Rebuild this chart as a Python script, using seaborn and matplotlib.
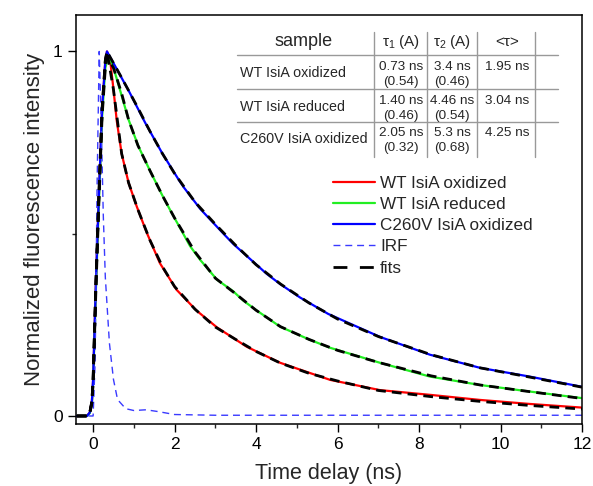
import numpy as np
import pandas as pd
import matplotlib
matplotlib.use("Agg")
import matplotlib.pyplot as plt
from matplotlib.lines import Line2D
from matplotlib.ticker import MultipleLocator
import seaborn as sns

# ---------------- data ----------------
t_red = [-0.4, -0.15, -0.08, -0.03, 0.0, 0.07, 0.14, 0.22, 0.30, 0.34, 0.42, 0.50, 0.58, 0.70,
         0.87, 1.07, 1.32, 1.64, 2.05, 2.54, 3.04, 3.77, 4.59, 5.24, 5.82, 7.04, 8.27, 9.5, 10.72, 12.0]
v_red = [0.0, 0.0, 0.01, 0.04, 0.10, 0.37, 0.60, 0.84, 0.975, 1.0, 0.975, 0.896, 0.81, 0.72,
         0.64, 0.575, 0.502, 0.419, 0.346, 0.289, 0.243, 0.19, 0.146, 0.121, 0.099, 0.071, 0.058, 0.044, 0.033, 0.023]

t_green = [-0.4, -0.15, -0.08, -0.03, 0.0, 0.07, 0.14, 0.22, 0.30, 0.38, 0.50, 0.62, 0.87, 1.11,
           1.40, 1.69, 1.89, 2.38, 2.63, 3.04, 3.44, 3.69, 4.06, 4.59, 5.32, 5.82, 7.04, 8.27, 9.5, 10.72, 12.0]
v_green = [0.0, 0.0, 0.008, 0.035, 0.09, 0.35, 0.58, 0.82, 0.955, 0.99, 0.955, 0.91, 0.813, 0.74,
           0.672, 0.607, 0.565, 0.466, 0.428, 0.374, 0.342, 0.316, 0.286, 0.245, 0.209, 0.187, 0.146, 0.108, 0.085, 0.067, 0.049]

t_blue = [-0.4, -0.15, -0.08, -0.03, 0.0, 0.07, 0.14, 0.22, 0.30, 0.34, 0.50, 0.87, 1.28, 1.69,
          2.09, 2.22, 2.63, 3.20, 3.44, 4.06, 4.26, 4.59, 5.08, 5.77, 7.04, 8.27, 9.5, 10.72, 12.0]
v_blue = [0.0, 0.0, 0.01, 0.04, 0.10, 0.37, 0.60, 0.84, 0.975, 1.0, 0.968, 0.893, 0.804, 0.722,
          0.650, 0.628, 0.568, 0.500, 0.472, 0.41, 0.39, 0.362, 0.325, 0.28, 0.217, 0.168, 0.132, 0.108, 0.080]

t_fit = [-0.4, -0.15, -0.08, -0.03, 0.0, 0.07, 0.14, 0.22, 0.30, 0.34, 0.5, 0.7, 0.87, 1.1, 1.4,
         1.7, 2.0, 2.5, 3.0, 3.5, 4.0, 4.6, 5.3, 6.0, 7.0, 8.3, 9.5, 10.7, 12.0]
fit_red = [0.0, 0.0, 0.01, 0.04, 0.10, 0.37, 0.60, 0.84, 0.975, 1.0, 0.895, 0.72, 0.64, 0.566, 0.481,
           0.41, 0.355, 0.293, 0.244, 0.21, 0.177, 0.145, 0.117, 0.096, 0.070, 0.053, 0.040, 0.029, 0.019]
fit_green = [0.0, 0.0, 0.008, 0.035, 0.09, 0.35, 0.58, 0.82, 0.955, 0.985, 0.955, 0.885, 0.813, 0.742, 0.672,
             0.605, 0.543, 0.45, 0.378, 0.335, 0.29, 0.245, 0.21, 0.18, 0.147, 0.11, 0.085, 0.067, 0.048]
fit_blue = [0.0, 0.0, 0.01, 0.04, 0.10, 0.37, 0.60, 0.84, 0.975, 1.0, 0.968, 0.928, 0.893, 0.845, 0.78,
            0.72, 0.665, 0.587, 0.526, 0.468, 0.415, 0.362, 0.31, 0.266, 0.218, 0.168, 0.132, 0.107, 0.079]

t_irf = [-0.4, 0.0, 0.05, 0.10, 0.15, 0.20, 0.25, 0.30, 0.40, 0.50, 0.60, 0.80, 1.0, 1.3, 1.6, 2.0, 3.0, 12.0]
irf = [0.0, 0.0, 0.15, 0.65, 1.0, 0.80, 0.55, 0.38, 0.20, 0.10, 0.045, 0.02, 0.015, 0.017, 0.012, 0.004, 0.002, 0.002]

series_labels = ["WT IsiA oxidized", "WT IsiA reduced", "C260V IsiA oxidized"]
series_colors = ["#ff0000", "#22ee22", "#0000ff"]

# table
tbl_samples = ["WT IsiA oxidized", "WT IsiA reduced", "C260V IsiA oxidized"]
tbl_tau1 = ["0.73 ns", "1.40 ns", "2.05 ns"]
tbl_a1 = ["(0.54)", "(0.46)", "(0.32)"]
tbl_tau2 = ["3.4 ns", "4.46 ns", "5.3 ns"]
tbl_a2 = ["(0.46)", "(0.54)", "(0.68)"]
tbl_avg = ["1.95 ns", "3.04 ns", "4.25 ns"]

# ---------------- style ----------------
sns.set_theme(style="ticks")
plt.rcParams['font.family'] = ['Liberation Sans', 'DejaVu Sans']
plt.rcParams['mathtext.fontset'] = 'custom'
plt.rcParams['mathtext.rm'] = 'Liberation Sans'
plt.rcParams['mathtext.it'] = 'Liberation Sans:italic'

W, H = 593, 486
fig = plt.figure(figsize=(W / 100, H / 100), dpi=100)
ax = fig.add_axes([76 / W, 1 - 424 / H, (582 - 76) / W, (424 - 15) / H])

df = pd.concat([
    pd.DataFrame({"t": t_red, "I": v_red, "sample": series_labels[0]}),
    pd.DataFrame({"t": t_green, "I": v_green, "sample": series_labels[1]}),
    pd.DataFrame({"t": t_blue, "I": v_blue, "sample": series_labels[2]}),
], ignore_index=True)

sns.lineplot(data=df, x="t", y="I", hue="sample", palette=series_colors,
             hue_order=series_labels, estimator=None, sort=False, lw=1.6, ax=ax, legend=False)
sns.lineplot(x=t_irf, y=irf, color="#3a3aff", lw=1.0, ax=ax, estimator=None, sort=False)
ax.lines[-1].set_dashes((5, 3.5))
for f in [fit_red, fit_green, fit_blue]:
    sns.lineplot(x=t_fit, y=f, color="black", lw=2.0, ax=ax, estimator=None, sort=False)
    ax.lines[-1].set_dashes((3.5, 2.2))

ax.set_xlim(-0.42, 12)
ax.set_ylim(-0.022, 1.10)
ax.xaxis.set_major_locator(MultipleLocator(2))
ax.xaxis.set_minor_locator(MultipleLocator(1))
ax.set_yticks([0, 1])
ax.set_yticklabels(["0", "1"])
ax.yaxis.set_minor_locator(MultipleLocator(0.5))
ax.tick_params(which="major", direction="out", length=6, width=1, labelsize=12.5, colors="black")
ax.tick_params(which="minor", direction="out", length=3, width=1)
for s in ax.spines.values():
    s.set_linewidth(1.1)
    s.set_color("black")
ax.set_xlabel("Time delay (ns)", fontsize=15.5, labelpad=8)
ax.set_ylabel("Normalized fluorescence intensity", fontsize=16, labelpad=6)

# legend
handles = [Line2D([], [], color=c, lw=1.6) for c in series_colors]
handles.append(Line2D([], [], color="#3a3aff", lw=1.0, dashes=(5, 3.5)))
handles.append(Line2D([], [], color="black", lw=2.0, dashes=(5, 4.5)))
labels = series_labels + ["IRF", "fits"]
ax.legend(handles, labels, loc="upper left", bbox_to_anchor=((333 - 76) / 506, (424 - 176) / 409),
          frameon=False, fontsize=12.3, handlelength=2.45, handletextpad=0.3,
          labelspacing=0.36, borderpad=0, borderaxespad=0)

# table
def fx(x):
    return x / W

def fy(y):
    return 1 - y / H

grey = "#999999"
for yy in [55, 89, 122]:
    fig.add_artist(Line2D([fx(237), fx(558)], [fy(yy), fy(yy)], color=grey, lw=1.0))
for xx in [374, 427, 477, 535]:
    fig.add_artist(Line2D([fx(xx), fx(xx)], [fy(32), fy(157)], color=grey, lw=1.0))

fig.text(fx(304), fy(42), "sample", fontsize=13, ha="center", va="center")
fig.text(fx(401), fy(42), r"τ$_1$ (A)", fontsize=11, ha="center", va="center")
fig.text(fx(452), fy(42), r"τ$_2$ (A)", fontsize=11, ha="center", va="center")
fig.text(fx(507), fy(42), "<τ>", fontsize=11, ha="center", va="center")

row_y = [73, 107, 139]
fs_val = 9.7
for i in range(3):
    y = row_y[i]
    fig.text(fx(240), fy(y), tbl_samples[i], fontsize=10.3, ha="left", va="center")
    fig.text(fx(401), fy(y - 6.5), tbl_tau1[i], fontsize=fs_val, ha="center", va="center")
    fig.text(fx(401), fy(y + 8.5), tbl_a1[i], fontsize=fs_val, ha="center", va="center")
    fig.text(fx(452), fy(y - 6.5), tbl_tau2[i], fontsize=fs_val, ha="center", va="center")
    fig.text(fx(452), fy(y + 8.5), tbl_a2[i], fontsize=fs_val, ha="center", va="center")
    fig.text(fx(507), fy(y - 6.5), tbl_avg[i], fontsize=fs_val, ha="center", va="center")

fig.savefig("out.png", dpi=100)
